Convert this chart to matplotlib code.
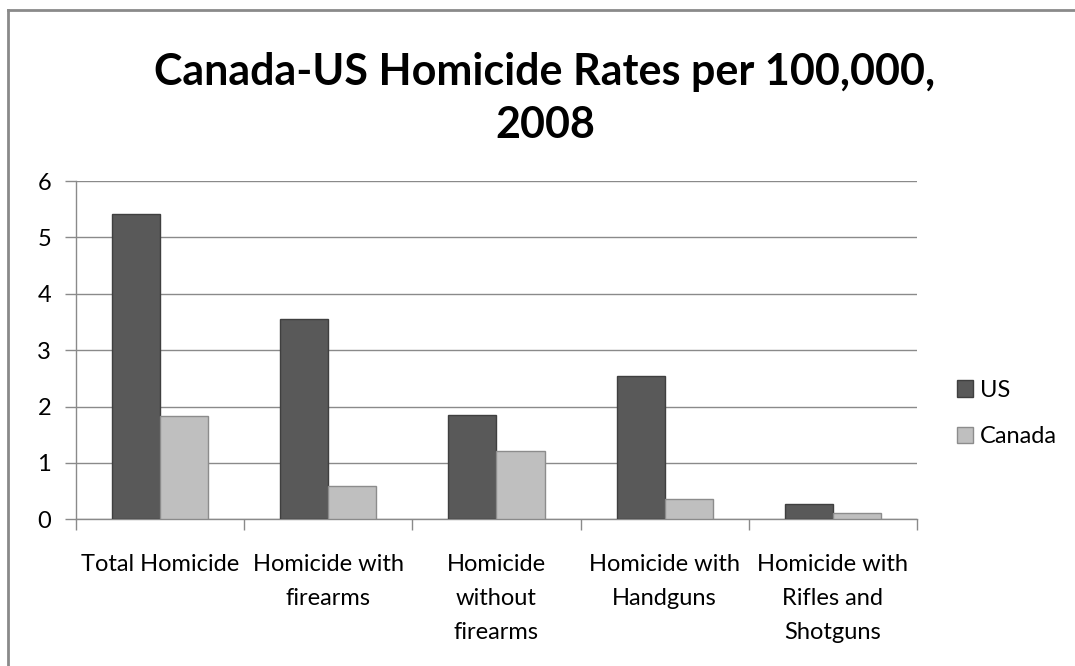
import matplotlib.pyplot as plt
import numpy as np

categories = ['Total Homicide', 'Homicide with\nfirearms', 'Homicide\nwithout\nfirearms',
              'Homicide with\nHandguns', 'Homicide with\nRifles and\nShotguns']
us = [5.41, 3.56, 1.85, 2.55, 0.27]
canada = [1.83, 0.585, 1.22, 0.36, 0.11]

plt.rcParams['font.family'] = ['Lato', 'DejaVu Sans']

fig = plt.figure(figsize=(10.75, 6.66), dpi=100)
ax = fig.add_axes([0.0707, 0.2203, 0.7822, 0.5079])

x = np.arange(len(categories))
w = 0.286
ax.bar(x - w / 2, us, w, color='#595959', edgecolor='#3f3f3f', linewidth=1, label='US', zorder=3)
ax.bar(x + w / 2, canada, w, color='#bfbfbf', edgecolor='#8c8c8c', linewidth=1, label='Canada', zorder=3)

ax.set_xlim(-0.5, len(categories) - 0.5)
ax.set_ylim(0, 6)
ax.set_yticks(range(7))
ax.yaxis.grid(True, color='#8a8a8a', linewidth=1, zorder=0)

ax.set_xticks(np.arange(-0.5, len(categories)), minor=False)
ax.set_xticklabels([])
ax.set_xticks(x, minor=True)
ax.set_xticklabels(categories, minor=True, fontsize=17, linespacing=1.76, va='top')
ax.tick_params(axis='x', which='minor', length=0, pad=25)
ax.tick_params(axis='x', which='major', length=8, color='#8a8a8a', width=1)
ax.tick_params(axis='y', length=8, color='#8a8a8a', width=1, labelsize=17, pad=10)

for s in ['top', 'right']:
    ax.spines[s].set_visible(False)
for s in ['left', 'bottom']:
    ax.spines[s].set_color('#8a8a8a')
    ax.spines[s].set_linewidth(1)

ax.legend(loc='center left', bbox_to_anchor=(1.022, 0.313), frameon=False, fontsize=17,
          handlelength=0.7, handleheight=0.7, handletextpad=0.3, labelspacing=1.08)

fig.text(0.507, 0.852, 'Canada-US Homicide Rates per 100,000,\n2008', ha='center', va='center',
         fontsize=31, fontweight='bold', linespacing=1.42)

# outer chart border (only top and left visible in the crop)
fig.add_artist(plt.Line2D([0.0075, 1], [0.985, 0.985], color='#8a8a8a', linewidth=2, transform=fig.transFigure))
fig.add_artist(plt.Line2D([0.0075, 0.0075], [0, 0.985], color='#8a8a8a', linewidth=2, transform=fig.transFigure))

fig.savefig('out.png', dpi=100)
